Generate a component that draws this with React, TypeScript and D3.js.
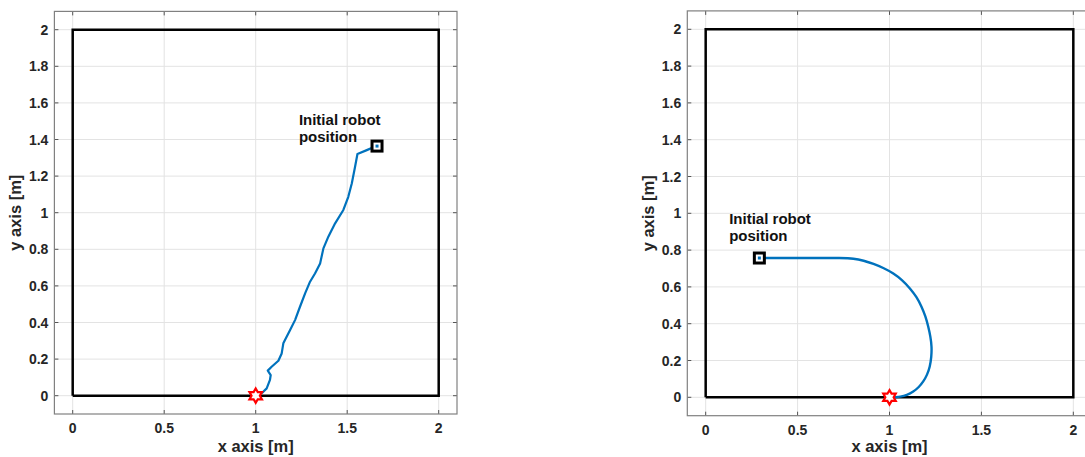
import React from "react";
import * as d3 from "d3";

const xTicks = [0, 0.5, 1, 1.5, 2];
const yTicks = [0, 0.2, 0.4, 0.6, 0.8, 1, 1.2, 1.4, 1.6, 1.8, 2];
const arenaX = [0, 2, 2, 0, 0];
const arenaY = [0, 0, 2, 2, 0];

const leftTrajX = [1.66, 1.607, 1.556, 1.543, 1.525, 1.506, 1.479, 1.434, 1.397, 1.37, 1.352, 1.324, 1.297, 1.27, 1.242, 1.215, 1.188, 1.16, 1.151, 1.142, 1.124, 1.087, 1.066, 1.082, 1.078, 1.06, 1.033];
const leftTrajY = [1.364, 1.342, 1.321, 1.251, 1.16, 1.087, 1.015, 0.942, 0.869, 0.805, 0.723, 0.668, 0.623, 0.559, 0.486, 0.413, 0.359, 0.304, 0.286, 0.231, 0.191, 0.158, 0.137, 0.113, 0.086, 0.04, 0.013];

const rightTrajX = [0.292, 0.292, 0.55, 0.75, 0.803, 0.86, 0.912, 0.97, 1.021, 1.07, 1.112, 1.148, 1.175, 1.196, 1.211, 1.223, 1.23, 1.228, 1.22, 1.205, 1.184, 1.16, 1.13, 1.095, 1.057, 1.03, 1.03];
const rightTrajY = [0.757, 0.757, 0.757, 0.757, 0.755, 0.743, 0.726, 0.702, 0.674, 0.637, 0.592, 0.545, 0.492, 0.44, 0.384, 0.33, 0.275, 0.22, 0.166, 0.122, 0.085, 0.055, 0.03, 0.012, 0.003, 0.0, 0.0];

const leftStart = [1.663, 1.364];
const rightStart = [0.292, 0.757];
const goal = [1, 0];

const labelTitle = ["Initial robot", "position"];
const leftLabelPos = [1.236, 1.479];
const rightLabelPos = [0.128, 0.942];

const FONT = "'Liberation Sans', Arial, sans-serif";
const BLUE = "#0072BD";

type PanelProps = {
  xr: [number, number];
  yr: [number, number];
  tx: number[];
  ty: number[];
  curve: any;
  start: number[];
  labelPos: number[];
  lineWidth: number;
};

function Panel({ xr, yr, tx, ty, curve, start, labelPos, lineWidth }: PanelProps) {
  const x = d3.scaleLinear().domain([-0.1, 2.1]).range(xr);
  const y = d3.scaleLinear().domain([-0.1, 2.1]).range(yr);
  const pts = tx.map((v, i) => [v, ty[i]] as [number, number]);
  const line = d3
    .line<[number, number]>()
    .x((d) => x(d[0]))
    .y((d) => y(d[1]))
    .curve(curve);
  const arena = arenaX.map((v, i) => [v, arenaY[i]] as [number, number]);
  const arenaLine = d3
    .line<[number, number]>()
    .x((d) => x(d[0]))
    .y((d) => y(d[1]));
  const [x0, x1] = xr;
  const [y0, y1] = yr;
  const tickLen = 4;
  const gx = x(goal[0]);
  const gy = y(goal[1]);
  const R = 7.2;
  const r = R / Math.sqrt(3);
  const star = d3.range(12).map((i) => {
    const a = (i * Math.PI) / 6 - Math.PI / 2;
    const rr = i % 2 === 0 ? R : r;
    return [gx + rr * Math.cos(a), gy + rr * Math.sin(a)];
  });
  const sx = x(start[0]);
  const sy = y(start[1]);
  const lx = x(labelPos[0]);
  const ly = y(labelPos[1]);
  return (
    <g>
      <rect x={x0} y={y1} width={x1 - x0} height={y0 - y1} fill="#fff" />
      {xTicks.map((t) => (
        <line key={"gx" + t} x1={x(t)} x2={x(t)} y1={y0} y2={y1} stroke="#e3e3e3" strokeWidth={1} />
      ))}
      {yTicks.map((t) => (
        <line key={"gy" + t} x1={x0} x2={x1} y1={y(t)} y2={y(t)} stroke="#e3e3e3" strokeWidth={1} />
      ))}
      {xTicks.map((t) => (
        <g key={"tx" + t}>
          <line x1={x(t)} x2={x(t)} y1={y0} y2={y0 - tickLen} stroke="#555" strokeWidth={1} />
          <line x1={x(t)} x2={x(t)} y1={y1} y2={y1 + tickLen} stroke="#555" strokeWidth={1} />
          <text x={x(t)} y={y0 + 19} textAnchor="middle" fontFamily={FONT} fontWeight="bold" fontSize={14} fill="#262626">
            {String(t)}
          </text>
        </g>
      ))}
      {yTicks.map((t) => (
        <g key={"ty" + t}>
          <line x1={x0} x2={x0 + tickLen} y1={y(t)} y2={y(t)} stroke="#555" strokeWidth={1} />
          <line x1={x1} x2={x1 - tickLen} y1={y(t)} y2={y(t)} stroke="#555" strokeWidth={1} />
          <text x={x0 - 6} y={y(t) + 5} textAnchor="end" fontFamily={FONT} fontWeight="bold" fontSize={14} fill="#262626">
            {String(t)}
          </text>
        </g>
      ))}
      <rect x={x0} y={y1} width={x1 - x0} height={y0 - y1} fill="none" stroke="#808080" strokeWidth={1.2} />
      <path d={arenaLine(arena) || ""} fill="none" stroke="#000" strokeWidth={2.5} />
      <path d={line(pts) || ""} fill="none" stroke={BLUE} strokeWidth={lineWidth} strokeLinejoin="round" />
      <polygon points={star.map((p) => p.join(",")).join(" ")} fill="#fff" stroke="#ff0000" strokeWidth={2.2} />
      <rect x={sx - 5} y={sy - 5} width={10} height={10} fill="#fff" stroke="#000" strokeWidth={3} />
      <rect x={sx - 1.5} y={sy - 1.5} width={3} height={3} fill={BLUE} />
      <text fontFamily={FONT} fontWeight="bold" fontSize={15} fill="#111">
        <tspan x={lx} y={ly}>{labelTitle[0]}</tspan>
        <tspan x={lx} y={ly + 17}>{labelTitle[1]}</tspan>
      </text>
      <text x={(x0 + x1) / 2} y={452} textAnchor="middle" fontFamily={FONT} fontWeight="bold" fontSize={16.5} fill="#262626">
        x axis [m]
      </text>
      <text
        transform={`translate(${x0 - 33},${(y0 + y1) / 2}) rotate(-90)`}
        textAnchor="middle"
        fontFamily={FONT}
        fontWeight="bold"
        fontSize={16.5}
        fill="#262626"
      >
        y axis [m]
      </text>
    </g>
  );
}

export default function App() {
  return (
    <svg
      width={1085}
      height={457}
      style={{ position: "absolute", left: 0, top: 0, background: "#fff" }}
    >
      <rect width={1085} height={457} fill="#fff" />
      <Panel
        xr={[54.4, 457]}
        yr={[414, 11.4]}
        tx={leftTrajX}
        ty={leftTrajY}
        curve={d3.curveLinear}
        start={leftStart}
        labelPos={leftLabelPos}
        lineWidth={2.2}
      />
      <Panel
        xr={[687.3, 1091.7]}
        yr={[415.7, 10.9]}
        tx={rightTrajX}
        ty={rightTrajY}
        curve={d3.curveBasis}
        start={rightStart}
        labelPos={rightLabelPos}
        lineWidth={2.4}
      />
    </svg>
  );
}
